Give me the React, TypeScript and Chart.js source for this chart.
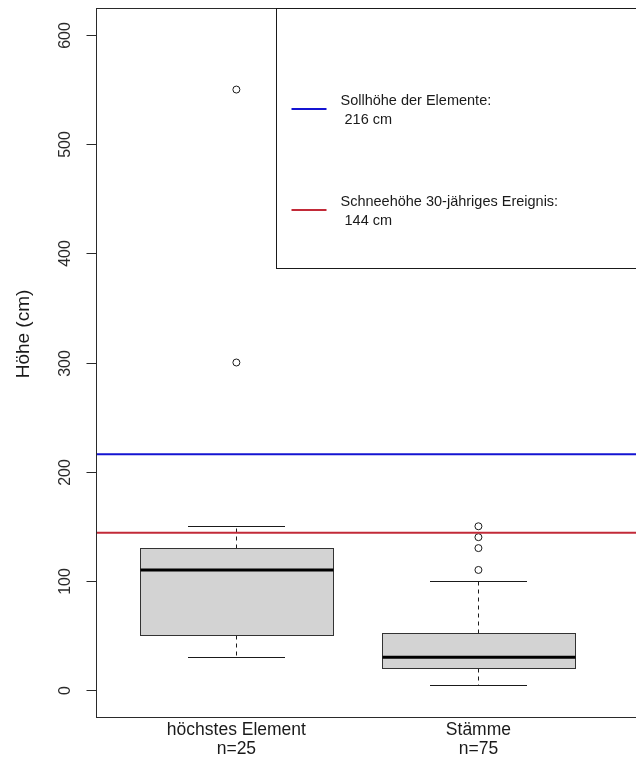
import { useEffect, useRef } from 'react';
import { Chart, registerables } from 'chart.js';

Chart.register(...registerables);

// Box plot summary per group (cm)
const categories = ['höchstes Element', 'Stämme'];
const sampleSizes = [25, 75];
const whiskerLow = [30, 5];
const quartile1 = [50, 20];
const medians = [110, 30];
const quartile3 = [130, 52];
const whiskerHigh = [150, 100];

// Outliers: group position (1-based) and value
const outlierGroup = [1, 1, 2, 2, 2, 2];
const outlierValues = [550, 300, 150, 140, 130, 110];

// Reference heights
const refLabels = ['Sollhöhe der Elemente:', 'Schneehöhe 30-jähriges Ereignis:'];
const refValues = [216, 144];
const refColors = ['#1414d2', '#c22a38'];

const yTicks = [0, 100, 200, 300, 400, 500, 600];
const yTitle = 'Höhe (cm)';

const X_MIN = 0.42;
const X_MAX = 2.651;
const Y_MIN = -24.7;
const Y_MAX = 624.7;

const FONT = '"Liberation Sans", Arial, Helvetica, sans-serif';
const INK = '#1a1a1a';

const boxPlotPlugin = {
  id: 'rBoxPlot',
  beforeDatasetsDraw(chart: any) {
    const { ctx, scales } = chart;
    const x = scales.x;
    const y = scales.y;
    ctx.save();
    categories.forEach((_, i) => {
      const pos = i + 1;
      const cx = Math.round(x.getPixelForValue(pos)) + 0.5;
      const half = x.getPixelForValue(pos + 0.4) - x.getPixelForValue(pos);
      const capHalf = half / 2;
      const px = (v: number) => Math.round(y.getPixelForValue(v)) + 0.5;
      const yLow = px(whiskerLow[i]);
      const yQ1 = px(quartile1[i]);
      const yMed = y.getPixelForValue(medians[i]);
      const yQ3 = px(quartile3[i]);
      const yHigh = px(whiskerHigh[i]);

      ctx.strokeStyle = INK;
      ctx.lineWidth = 1;
      // dashed whiskers
      ctx.setLineDash([4, 4]);
      ctx.beginPath();
      ctx.moveTo(cx, yQ3);
      ctx.lineTo(cx, yHigh);
      ctx.moveTo(cx, yQ1);
      ctx.lineTo(cx, yLow);
      ctx.stroke();
      ctx.setLineDash([]);
      // staples
      ctx.beginPath();
      ctx.moveTo(Math.round(cx - capHalf), yHigh);
      ctx.lineTo(Math.round(cx + capHalf), yHigh);
      ctx.moveTo(Math.round(cx - capHalf), yLow);
      ctx.lineTo(Math.round(cx + capHalf), yLow);
      ctx.stroke();
      // box
      const left = Math.round(cx - half) + 0.5;
      const right = Math.round(cx + half) + 0.5;
      ctx.fillStyle = '#d3d3d3';
      ctx.fillRect(left, yQ3, right - left, yQ1 - yQ3);
      ctx.strokeStyle = '#333333';
      ctx.strokeRect(left, yQ3, right - left, yQ1 - yQ3);
      // median
      ctx.strokeStyle = '#000000';
      ctx.lineWidth = 3;
      ctx.beginPath();
      ctx.moveTo(left, yMed);
      ctx.lineTo(right, yMed);
      ctx.stroke();
    });
    ctx.restore();
  },
  afterDraw(chart: any) {
    const { ctx, scales, chartArea } = chart;
    const x = scales.x;
    const y = scales.y;
    const L = Math.round(chartArea.left) + 0.5;
    const T = Math.round(chartArea.top) + 0.5;
    const B = Math.round(chartArea.bottom) + 0.5;
    const R = chartArea.right + 20;
    ctx.save();

    // plot frame
    ctx.strokeStyle = '#2a2a2a';
    ctx.lineWidth = 1;
    ctx.strokeRect(L, T, R - L, B - T);

    // y axis ticks and vertical labels
    ctx.fillStyle = '#2a2a2a';
    ctx.font = `16px ${FONT}`;
    ctx.textAlign = 'center';
    ctx.textBaseline = 'middle';
    yTicks.forEach((v) => {
      const py = Math.round(y.getPixelForValue(v)) + 0.5;
      ctx.beginPath();
      ctx.moveTo(L - 10, py);
      ctx.lineTo(L, py);
      ctx.stroke();
      ctx.save();
      ctx.translate(L - 31, py);
      ctx.rotate(-Math.PI / 2);
      ctx.fillText(String(v), 0, 0);
      ctx.restore();
    });

    // y axis title
    ctx.save();
    ctx.fillStyle = INK;
    ctx.font = `19px ${FONT}`;
    ctx.translate(24, 334);
    ctx.rotate(-Math.PI / 2);
    ctx.fillText(yTitle, 0, 0);
    ctx.restore();

    // group labels with sample sizes
    ctx.fillStyle = INK;
    ctx.font = `17.5px ${FONT}`;
    categories.forEach((name, i) => {
      const cx = x.getPixelForValue(i + 1);
      ctx.fillText(name, cx, B + 13);
      ctx.fillText(`n=${sampleSizes[i]}`, cx, B + 32);
    });

    // legend box
    const legL = Math.round(x.getPixelForValue(1.164)) + 0.5;
    const legB = Math.round(y.getPixelForValue(386.5)) + 0.5;
    ctx.fillStyle = '#ffffff';
    ctx.fillRect(legL, T, R - legL, legB - T);
    ctx.strokeStyle = '#1a1a1a';
    ctx.strokeRect(legL, T, R - legL, legB - T);

    ctx.textAlign = 'left';
    ctx.font = `14.5px ${FONT}`;
    const entryY = [109, 210];
    refLabels.forEach((label, i) => {
      const ly = entryY[i];
      ctx.strokeStyle = refColors[i];
      ctx.lineWidth = 2;
      ctx.beginPath();
      ctx.moveTo(legL + 15, ly);
      ctx.lineTo(legL + 50, ly);
      ctx.stroke();
      ctx.fillStyle = INK;
      ctx.fillText(label, legL + 64, ly - 8);
      ctx.fillText(` ${refValues[i]} cm`, legL + 64, ly + 11);
    });

    ctx.restore();
  },
};

export default function App() {
  const canvasRef = useRef<HTMLCanvasElement | null>(null);

  useEffect(() => {
    const canvas = canvasRef.current;
    if (!canvas) return;
    const chart = new Chart(canvas, {
      type: 'scatter',
      data: {
        datasets: [
          ...refValues.map((v, i) => ({
            label: refLabels[i],
            data: [
              { x: X_MIN, y: v },
              { x: X_MAX, y: v },
            ],
            showLine: true,
            borderColor: refColors[i],
            borderWidth: 2,
            pointRadius: 0,
            order: 0,
          })),
          {
            label: 'Ausreißer',
            data: outlierValues.map((v, i) => ({ x: outlierGroup[i], y: v })),
            pointRadius: 3.5,
            pointBorderColor: '#1a1a1a',
            pointBackgroundColor: '#ffffff',
            pointBorderWidth: 1,
            order: 1,
          },
        ],
      },
      options: {
        responsive: false,
        animation: false,
        events: [],
        layout: { autoPadding: false, padding: { top: 8, left: 0, right: 0, bottom: 0 } },
        plugins: {
          legend: { display: false },
          tooltip: { enabled: false },
        },
        scales: {
          x: {
            type: 'linear',
            min: X_MIN,
            max: X_MAX,
            grid: { display: false, drawTicks: false },
            border: { display: false },
            ticks: { display: false },
            afterFit: (s: any) => {
              s.height = 41;
            },
          },
          y: {
            type: 'linear',
            min: Y_MIN,
            max: Y_MAX,
            grid: { display: false, drawTicks: false },
            border: { display: false },
            ticks: { display: false },
            afterFit: (s: any) => {
              s.width = 96;
            },
          },
        },
      } as any,
      plugins: [boxPlotPlugin],
    });
    return () => chart.destroy();
  }, []);

  return (
    <div style={{ position: 'absolute', left: 0, top: 0, width: 636, height: 758, background: '#ffffff' }}>
      <canvas ref={canvasRef} width={636} height={758} style={{ display: 'block' }} />
    </div>
  );
}
